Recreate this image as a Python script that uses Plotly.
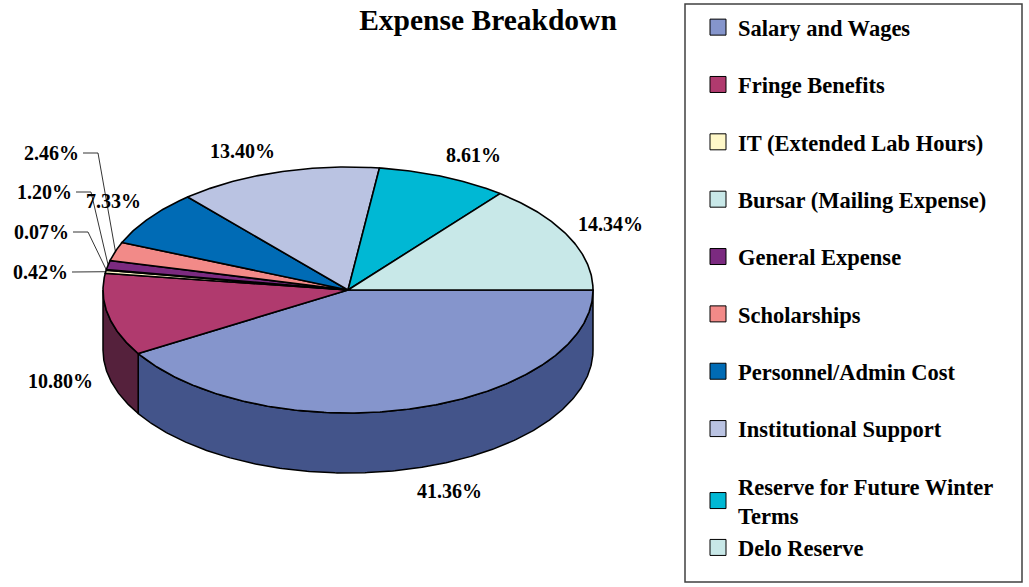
import numpy as np
import plotly.graph_objects as go

# ---------------- data ----------------
categories = [
    "Salary and Wages",
    "Fringe Benefits",
    "IT (Extended Lab Hours)",
    "Bursar (Mailing Expense)",
    "General Expense",
    "Scholarships",
    "Personnel/Admin Cost",
    "Institutional Support",
    "Reserve for Future Winter Terms",
    "Delo Reserve",
]
shares = [41.36, 10.80, 0.42, 0.07, 1.20, 2.46, 7.33, 13.40, 8.61, 14.34]
legend_names = [
    "Salary and Wages",
    "Fringe Benefits",
    "IT (Extended Lab Hours)",
    "Bursar (Mailing Expense)",
    "General Expense",
    "Scholarships",
    "Personnel/Admin Cost",
    "Institutional Support",
    "Reserve for Future Winter<br>Terms",
    "Delo Reserve",
]
top_colors = ["#8595CC", "#B03A6E", "#FFF8C8", "#C8E8E8", "#7B2A80",
              "#F28A88", "#006BB5", "#BAC3E2", "#00B8D4", "#C8E8E8"]
side_colors = ["#43548A", "#55213C", "#A9A484", "#849999", "#511C54",
               "#A05B5A", "#004677", "#7B8195", "#00798C", "#849999"]

# ---------------- layout constants ----------------
W, H = 1029, 587
CX, CY, RX, RY, DEPTH = 348, 290, 245, 123, 60
FONT = "Liberation Serif"

# label placement (screen pixel positions of the label text)
label_pos = {
    0: (449, 491, "center"),
    1: (60, 381, "center"),
    2: (70, 272, "right"),
    3: (71, 232, "right"),
    4: (74, 192, "right"),
    5: (81, 153, "right"),
    6: (113, 201, "center"),
    7: (242, 151, "center"),
    8: (473, 155, "center"),
    9: (610, 224, "center"),
}
leader_elbow = {3: 88, 4: 91, 5: 98}
leader_start = {2: 72, 3: 73, 4: 76, 5: 83}

total = sum(shares)
bounds = np.concatenate([[0.0], np.cumsum(shares)]) / total * 360.0


def ell(theta, dy=0.0):
    t = np.radians(theta)
    return CX + RX * np.cos(t), CY + RY * np.sin(t) + dy


def px(sx):
    return sx / W


def py(sy):
    return 1 - sy / H


fig = go.Figure()

# side walls (front half only: 0..180 degrees)
for i in range(len(shares)):
    lo, hi = max(bounds[i], 0.0), min(bounds[i + 1], 180.0)
    if lo >= hi:
        continue
    th = np.linspace(lo, hi, max(3, int((hi - lo) * 2)))
    xt, yt = ell(th)
    xb, yb = ell(th[::-1], DEPTH)
    xs = np.concatenate([xt, xb, xt[:1]])
    ys = np.concatenate([yt, yb, yt[:1]])
    fig.add_trace(go.Scatter(x=xs, y=ys, mode="lines", fill="toself",
                             fillcolor=side_colors[i],
                             line=dict(color="black", width=1.5),
                             showlegend=False, hoverinfo="skip"))

# top faces
for i in range(len(shares)):
    a, b = bounds[i], bounds[i + 1]
    th = np.linspace(a, b, max(3, int((b - a) * 2)))
    xa, ya = ell(th)
    xs = np.concatenate([[CX], xa, [CX]])
    ys = np.concatenate([[CY], ya, [CY]])
    fig.add_trace(go.Scatter(x=xs, y=ys, mode="lines", fill="toself",
                             fillcolor=top_colors[i],
                             line=dict(color="black", width=1.6),
                             showlegend=False, hoverinfo="skip"))

# leader lines for the small slices
for i, xs0 in leader_start.items():
    mid = (bounds[i] + bounds[i + 1]) / 2
    mx, my = ell(mid)
    ly = label_pos[i][1]
    if i in leader_elbow:
        xs = [xs0, leader_elbow[i], mx]
        ys = [ly, ly, my]
    else:
        xs = [xs0, mx]
        ys = [ly, my]
    fig.add_trace(go.Scatter(x=xs, y=ys, mode="lines",
                             line=dict(color="black", width=0.8),
                             showlegend=False, hoverinfo="skip"))

# percentage labels
for i, (lx, ly, anchor) in label_pos.items():
    fig.add_annotation(x=lx, y=ly, xref="x", yref="y",
                       text="<b>%.2f%%</b>" % shares[i], showarrow=False,
                       xanchor=anchor, yanchor="middle",
                       font=dict(family=FONT, size=20, color="black"))

# legend entries
groups = ["g0", "g1", "g2", "g3", "g4", "g5", "g6", "g7", "g8", "g8"]
for i in range(len(categories)):
    fig.add_trace(go.Scatter(x=[None], y=[None], mode="markers",
                             name="<b>%s</b>" % legend_names[i],
                             legendgroup=groups[i],
                             marker=dict(symbol="square", size=16,
                                         color=top_colors[i],
                                         line=dict(color="black", width=1)),
                             hoverinfo="skip"))

fig.add_shape(type="rect", xref="x", yref="y", x0=685, x1=1022, y0=4, y1=582,
              line=dict(color="#404040", width=1.5), fillcolor="rgba(0,0,0,0)")

fig.update_layout(
    width=W, height=H,
    margin=dict(l=0, r=0, t=0, b=0),
    paper_bgcolor="white", plot_bgcolor="white",
    title=dict(text="<b>Expense Breakdown</b>", x=px(488), xanchor="center",
               y=py(20), yanchor="middle",
               font=dict(family=FONT, size=29.5, color="black")),
    xaxis=dict(range=[0, W], visible=False, fixedrange=True),
    yaxis=dict(range=[H, 0], visible=False, fixedrange=True),
    legend=dict(x=px(698), y=py(6), xanchor="left", yanchor="top",
                font=dict(family=FONT, size=22.5, color="black"),
                tracegroupgap=25.1, bgcolor="rgba(0,0,0,0)",
                traceorder="grouped", itemsizing="trace"),
    showlegend=True,
)

fig.write_html(
    "out.html",
    config={"displayModeBar": False},
    post_script="document.body.style.margin='0';"
                "document.body.style.overflow='hidden';",
)
